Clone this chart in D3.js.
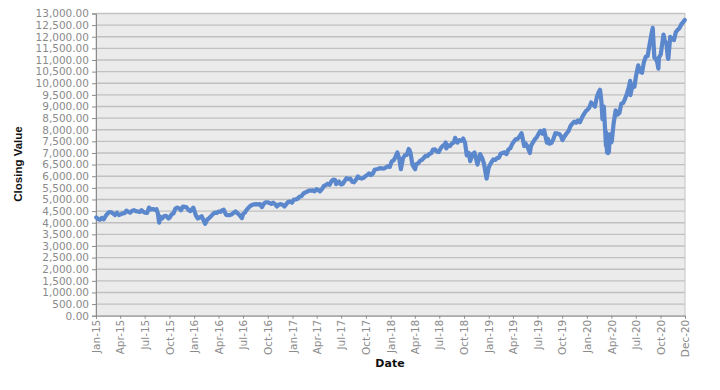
<!DOCTYPE html>
<html>
<head>
<meta charset="utf-8">
<script src="https://cdn.jsdelivr.net/npm/d3@7"></script>
<style>
  html, body { margin: 0; padding: 0; background: #ffffff; }
  svg { display: block; }
</style>
</head>
<body>
<svg id="chart" width="720" height="390"></svg>
<script>
// ---- data ----
const dates = [
  "2015-01-02","2015-01-09","2015-01-16","2015-01-23","2015-01-30","2015-02-06","2015-02-13","2015-02-20","2015-02-27",
  "2015-03-06","2015-03-13","2015-03-20","2015-03-27","2015-04-03","2015-04-10","2015-04-17","2015-04-24","2015-05-01",
  "2015-05-08","2015-05-15","2015-05-22","2015-05-29","2015-06-05","2015-06-12","2015-06-19","2015-06-26","2015-07-02",
  "2015-07-10","2015-07-17","2015-07-24","2015-07-31","2015-08-07","2015-08-14","2015-08-19","2015-08-24","2015-08-28",
  "2015-09-04","2015-09-11","2015-09-18","2015-09-28","2015-10-02","2015-10-09","2015-10-16","2015-10-23","2015-10-30",
  "2015-11-06","2015-11-13","2015-11-20","2015-11-27","2015-12-04","2015-12-11","2015-12-18","2015-12-29",
  "2016-01-08","2016-01-15","2016-01-22","2016-01-29","2016-02-05","2016-02-11","2016-02-19","2016-02-26","2016-03-04",
  "2016-03-11","2016-03-18","2016-03-25","2016-04-01","2016-04-08","2016-04-15","2016-04-20","2016-04-29","2016-05-06",
  "2016-05-13","2016-05-20","2016-05-27","2016-06-03","2016-06-10","2016-06-17","2016-06-27","2016-07-01","2016-07-08",
  "2016-07-15","2016-07-22","2016-07-29","2016-08-05","2016-08-12","2016-08-19","2016-08-26","2016-09-02","2016-09-09",
  "2016-09-16","2016-09-23","2016-09-30","2016-10-07","2016-10-14","2016-10-21","2016-10-28","2016-11-04","2016-11-11",
  "2016-11-18","2016-11-25","2016-12-02","2016-12-09","2016-12-16","2016-12-23","2016-12-30",
  "2017-01-06","2017-01-13","2017-01-20","2017-01-27","2017-02-03","2017-02-10","2017-02-17","2017-02-24","2017-03-03",
  "2017-03-10","2017-03-17","2017-03-24","2017-03-31","2017-04-07","2017-04-13","2017-04-21","2017-04-28","2017-05-05",
  "2017-05-12","2017-05-19","2017-05-26","2017-06-02","2017-06-08","2017-06-12","2017-06-23","2017-06-30","2017-07-07",
  "2017-07-14","2017-07-21","2017-07-28","2017-08-04","2017-08-11","2017-08-18","2017-08-25","2017-09-01","2017-09-08",
  "2017-09-15","2017-09-22","2017-09-29","2017-10-06","2017-10-13","2017-10-20","2017-10-27","2017-11-03","2017-11-10",
  "2017-11-17","2017-11-24","2017-12-01","2017-12-08","2017-12-15","2017-12-22","2017-12-29",
  "2018-01-05","2018-01-12","2018-01-19","2018-01-26","2018-02-02","2018-02-08","2018-02-16","2018-02-23","2018-03-02",
  "2018-03-09","2018-03-12","2018-03-16","2018-03-23","2018-04-02","2018-04-06","2018-04-13","2018-04-20","2018-04-27",
  "2018-05-04","2018-05-11","2018-05-18","2018-05-25","2018-06-01","2018-06-08","2018-06-15","2018-06-22","2018-06-29",
  "2018-07-06","2018-07-13","2018-07-20","2018-07-25","2018-07-27","2018-08-03","2018-08-10","2018-08-17","2018-08-24",
  "2018-08-29","2018-09-07","2018-09-14","2018-09-21","2018-09-28","2018-10-05","2018-10-11","2018-10-19","2018-10-24",
  "2018-11-02","2018-11-09","2018-11-20","2018-11-30","2018-12-07","2018-12-14","2018-12-24","2018-12-31",
  "2019-01-04","2019-01-11","2019-01-18","2019-01-25","2019-02-01","2019-02-08","2019-02-15","2019-02-22","2019-03-01",
  "2019-03-08","2019-03-15","2019-03-22","2019-03-29","2019-04-05","2019-04-12","2019-04-18","2019-04-26","2019-05-03",
  "2019-05-13","2019-05-17","2019-05-24","2019-06-03","2019-06-07","2019-06-14","2019-06-21","2019-06-28","2019-07-05",
  "2019-07-12","2019-07-19","2019-07-26","2019-08-05","2019-08-09","2019-08-14","2019-08-23","2019-08-30","2019-09-06",
  "2019-09-13","2019-09-20","2019-09-27","2019-10-02","2019-10-11","2019-10-18","2019-10-25","2019-11-01","2019-11-08",
  "2019-11-15","2019-11-22","2019-11-29","2019-12-06","2019-12-13","2019-12-20","2019-12-27",
  "2020-01-03","2020-01-10","2020-01-17","2020-01-24","2020-01-31","2020-02-07","2020-02-14","2020-02-19","2020-02-24",
  "2020-02-28","2020-03-04","2020-03-09","2020-03-12","2020-03-13","2020-03-16","2020-03-20","2020-03-23","2020-03-26",
  "2020-04-01","2020-04-03","2020-04-09","2020-04-17","2020-04-24","2020-05-01","2020-05-08","2020-05-15","2020-05-22",
  "2020-05-29","2020-06-05","2020-06-10","2020-06-11","2020-06-19","2020-06-26","2020-07-02","2020-07-10","2020-07-17",
  "2020-07-24","2020-07-31","2020-08-07","2020-08-14","2020-08-21","2020-08-28","2020-09-02","2020-09-08","2020-09-11",
  "2020-09-18","2020-09-23","2020-09-25","2020-10-02","2020-10-09","2020-10-12","2020-10-16","2020-10-23","2020-10-28",
  "2020-10-30","2020-11-06","2020-11-13","2020-11-20","2020-11-27","2020-12-04","2020-12-11","2020-12-18","2020-12-24",
  "2020-12-30"
];
const closingValues = [
  4230,4160,4130,4210,4150,4290,4400,4460,4450,
  4390,4330,4430,4330,4360,4400,4410,4520,4470,
  4430,4510,4540,4500,4480,4460,4540,4470,4430,
  4420,4650,4570,4590,4560,4580,4400,4000,4260,
  4180,4280,4300,4180,4220,4360,4400,4600,4650,
  4620,4540,4690,4680,4660,4550,4500,4650,
  4300,4180,4230,4280,4100,3950,4140,4200,4280,
  4370,4440,4420,4480,4470,4540,4560,4340,4330,
  4330,4360,4430,4490,4410,4340,4200,4370,4440,
  4560,4650,4730,4770,4790,4800,4780,4800,4670,
  4810,4880,4880,4850,4810,4860,4800,4700,4780,
  4800,4770,4700,4800,4900,4910,4860,
  4990,5000,5030,5120,5140,5250,5300,5330,5380,
  5380,5390,5350,5440,5410,5350,5460,5580,5620,
  5680,5630,5790,5860,5850,5660,5770,5650,5670,
  5800,5920,5870,5900,5760,5740,5850,5990,5920,
  5900,5930,6000,6050,6120,6050,6110,6290,6300,
  6320,6350,6330,6340,6380,6430,6400,
  6640,6680,6830,7020,6760,6300,6780,6900,6920,
  7170,7130,7010,6500,6300,6520,6550,6660,6700,
  6780,6880,6860,6960,6990,7150,7160,7060,7040,
  7200,7300,7350,7450,7200,7330,7300,7410,7450,
  7650,7450,7550,7520,7620,7430,6900,7000,6650,
  6950,7020,6500,6950,6800,6550,5900,6330,
  6460,6600,6720,6700,6780,6800,6980,7000,7030,
  6950,7150,7200,7380,7500,7600,7600,7720,7850,
  7300,7420,7300,7000,7300,7450,7580,7670,7820,
  7950,7830,7980,7450,7610,7400,7440,7620,7850,
  7840,7820,7720,7550,7730,7850,7950,8160,8260,
  8350,8300,8400,8320,8500,8650,8780,
  8860,8950,9170,9080,8990,9400,9620,9720,9220,
  8460,9000,7950,7300,7890,7020,7000,7050,7800,
  7450,7530,8230,8830,8650,8720,9120,9150,9330,
  9550,9820,10100,9490,9950,9850,10330,10770,10500,
  10450,10900,11140,11170,11650,12100,12380,11100,11080,
  10940,10630,11100,11250,11850,12090,11850,11700,11100,
  11050,12000,11900,11860,12200,12300,12380,12550,12620,
  12720
];
const yTickValues = [0,500,1000,1500,2000,2500,3000,3500,4000,4500,5000,5500,6000,6500,
  7000,7500,8000,8500,9000,9500,10000,10500,11000,11500,12000,12500,13000];
const xTickLabels = ["Jan-15","Apr-15","Jul-15","Oct-15","Jan-16","Apr-16","Jul-16","Oct-16",
  "Jan-17","Apr-17","Jul-17","Oct-17","Jan-18","Apr-18","Jul-18","Oct-18",
  "Jan-19","Apr-19","Jul-19","Oct-19","Jan-20","Apr-20","Jul-20","Oct-20","Dec-20"];
const xDomain = ["2015-01-01","2020-12-31"];
const yTitle = "Closing Value";
const xTitle = "Date";

// ---- drawing ----
const parse = d3.timeParse("%Y-%m-%d");
const parseLabel = d3.timeParse("%b-%y");
const data = dates.map((d, i) => ({ date: parse(d), value: closingValues[i] }));

const plot = { left: 96, right: 685, top: 13.5, bottom: 315.7 };
const svg = d3.select("#chart");

const x = d3.scaleTime().domain(xDomain.map(parse)).range([plot.left, plot.right]);
const y = d3.scaleLinear().domain([0, 13000]).range([plot.bottom, plot.top]);

// tick dates: label parsed, last label maps to axis end
const xTickDates = xTickLabels.map((l, i) =>
  i === xTickLabels.length - 1 ? x.domain()[1] : parseLabel(l));

// plot background
svg.append("rect")
  .attr("x", plot.left).attr("y", plot.top)
  .attr("width", plot.right - plot.left).attr("height", plot.bottom - plot.top)
  .attr("fill", "#ebebeb");

// gridlines
svg.append("g").selectAll("line").data(yTickValues.filter(v => v > 0)).join("line")
  .attr("x1", plot.left).attr("x2", plot.right)
  .attr("y1", d => y(d)).attr("y2", d => y(d))
  .attr("stroke", "#c0c0c0").attr("stroke-width", 1.4);

// plot border (right/top)
svg.append("rect")
  .attr("x", plot.left).attr("y", plot.top)
  .attr("width", plot.right - plot.left).attr("height", plot.bottom - plot.top)
  .attr("fill", "none").attr("stroke", "#c4c4c4").attr("stroke-width", 1);

// y axis
const yAxis = d3.axisLeft(y).tickValues(yTickValues).tickSize(4).tickPadding(3)
  .tickFormat(d3.format(",.2f"));
const gy = svg.append("g").attr("transform", `translate(${plot.left},0)`).call(yAxis);
gy.select(".domain").attr("stroke", "#8c8c8c");
gy.selectAll(".tick line").attr("stroke", "#8c8c8c");
gy.selectAll(".tick text")
  .attr("fill", "#8a8a8a")
  .style("font-family", "'DejaVu Sans', Verdana, sans-serif")
  .style("font-size", "10.5px");

// x axis
const xAxis = d3.axisBottom(x).tickValues(xTickDates).tickSize(3)
  .tickFormat((d, i) => xTickLabels[i]);
const gx = svg.append("g").attr("transform", `translate(0,${plot.bottom})`).call(xAxis);
gx.select(".domain").attr("stroke", "#8c8c8c");
gx.selectAll(".tick line").attr("stroke", "#8c8c8c");
gx.selectAll(".tick text")
  .attr("fill", "#8a8a8a")
  .style("font-family", "'DejaVu Sans', Verdana, sans-serif")
  .style("font-size", "10.5px")
  .attr("text-anchor", "end")
  .attr("transform", "rotate(-90)")
  .attr("x", -4).attr("y", 0).attr("dy", "0.35em");

// line
const line = d3.line().x(d => x(d.date)).y(d => y(d.value)).curve(d3.curveLinear);
svg.append("path").datum(data)
  .attr("d", line)
  .attr("fill", "none")
  .attr("stroke", "#5b87cc")
  .attr("stroke-width", 4.2)
  .attr("stroke-linejoin", "round")
  .attr("stroke-linecap", "round");

// axis titles
svg.append("text")
  .attr("x", 390).attr("y", 367)
  .attr("text-anchor", "middle")
  .style("font-family", "'DejaVu Sans', Verdana, sans-serif")
  .style("font-weight", "bold").style("font-size", "11px")
  .attr("fill", "#111")
  .text(xTitle);

svg.append("text")
  .attr("transform", "translate(22,164) rotate(-90)")
  .attr("text-anchor", "middle")
  .style("font-family", "'Liberation Sans', Arial, sans-serif")
  .style("font-weight", "bold").style("font-size", "11.5px")
  .attr("fill", "#111")
  .text(yTitle);
</script>
</body>
</html>
